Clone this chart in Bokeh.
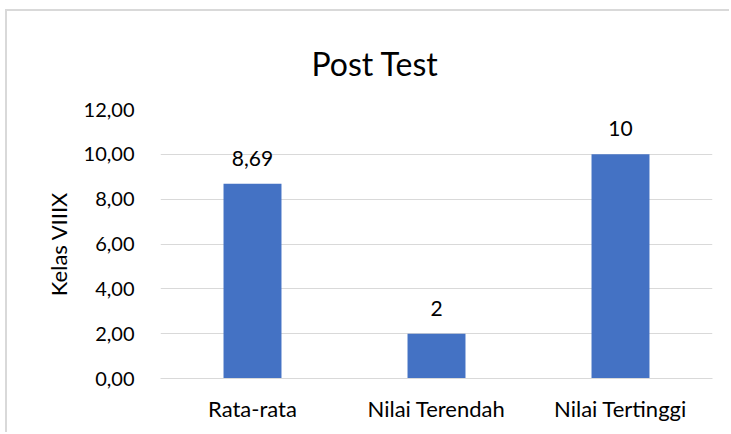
from bokeh.plotting import figure
from bokeh.models import ColumnDataSource, LabelSet, Range1d, FixedTicker
from bokeh.core.properties import value
from bokeh.embed import file_html
from bokeh.resources import INLINE

categories = ["Rata-rata", "Nilai Terendah", "Nilai Tertinggi"]
values = [8.69, 2, 10]
value_labels = ["8,69", "2", "10"]
y_ticks = [0, 2, 4, 6, 8, 10, 12]
y_tick_labels = ["0,00", "2,00", "4,00", "6,00", "8,00", "10,00", "12,00"]

FONT = "Lato"
TXT = "#000000"
GRID = "#d9d9d9"
BAR = "#4472c4"

src = ColumnDataSource(dict(cat=categories, val=values, lab=value_labels))

p = figure(
    x_range=categories,
    y_range=Range1d(0, 12),
    width=724, height=423,
    output_backend="svg", toolbar_location=None,
    min_border_left=153, min_border_right=19,
    min_border_top=98, min_border_bottom=56,
    title="Post Test",
)
p.styles = {"margin-left": "5px", "margin-top": "9px",
            "border-left": "2px solid #d9d9d9", "border-top": "2px solid #d9d9d9",
            "overflow": "hidden"}

p.vbar(x="cat", top="val", width=0.315, source=src, fill_color=BAR, line_color=None)

labels = LabelSet(x="cat", y="val", text="lab", source=src, text_align="center",
                  text_baseline="alphabetic", y_offset=18, text_font=value(FONT),
                  text_font_size="21px", text_color=TXT)
p.add_layout(labels)

p.title.text_font = FONT
p.title.text_font_size = "32px"
p.title.text_font_style = "normal"
p.title.text_color = TXT
p.title.align = "left"
p.title.offset = 151
p.title.standoff = 53

p.outline_line_color = None
p.background_fill_color = "white"
p.border_fill_color = "white"

p.xgrid.grid_line_color = None
p.ygrid.grid_line_color = GRID
p.ygrid.grid_line_width = 1
p.yaxis.ticker = FixedTicker(ticks=y_ticks)
p.yaxis.major_label_overrides = {t: l for t, l in zip(y_ticks, y_tick_labels)}
p.yaxis.axis_line_color = None
p.yaxis.major_tick_line_color = None
p.yaxis.minor_tick_line_color = None
p.yaxis.major_label_standoff = 20
p.yaxis.major_label_text_font = FONT
p.yaxis.major_label_text_font_size = "20px"
p.yaxis.major_label_text_color = TXT
p.yaxis.axis_label = "Kelas VIIIX"
p.yaxis.axis_label_text_font = FONT
p.yaxis.axis_label_text_font_size = "22px"
p.yaxis.axis_label_text_font_style = "normal"
p.yaxis.axis_label_text_color = TXT
p.yaxis.axis_label_standoff = 9

p.xaxis.axis_line_color = GRID
p.xaxis.axis_line_width = 1
p.xaxis.major_tick_line_color = None
p.xaxis.minor_tick_line_color = None
p.xaxis.major_label_standoff = 10
p.xaxis.major_label_text_font = FONT
p.xaxis.major_label_text_font_size = "22px"
p.xaxis.major_label_text_color = TXT

open("out.html", "w").write(file_html(p, INLINE))
